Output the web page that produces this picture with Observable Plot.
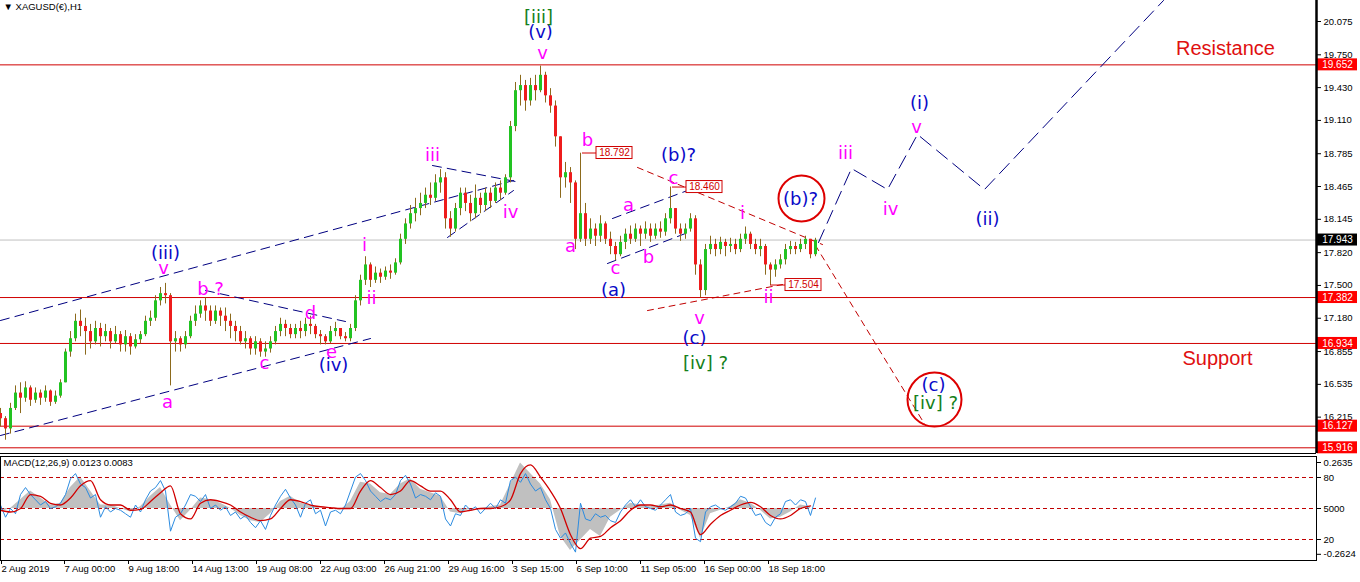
<!DOCTYPE html>
<html><head><meta charset="utf-8">
<script src="https://cdn.jsdelivr.net/npm/d3@7"></script>
<script src="https://cdn.jsdelivr.net/npm/@observablehq/plot@0.6"></script>
<style>
html,body{margin:0;padding:0;background:#fff;}
#chart svg{display:block;}
</style></head><body><div id="chart"></div>
<script>
// ---------- DATA ----------
// H1 candles sampled every 5 bars (bar index = i*5)
const closes = [16.20,16.10,16.30,16.45,16.40,16.50,16.38,16.45,16.40,16.47,
16.36,16.42,16.55,16.85,16.98,17.15,17.10,17.05,16.95,17.08,
17.00,17.05,16.95,17.02,16.92,17.00,16.90,16.97,17.02,17.15,
17.18,17.35,17.42,17.40,16.95,16.98,16.92,17.00,17.15,17.22,
17.30,17.25,17.15,17.25,17.20,17.15,17.10,17.05,16.95,16.98,
16.88,16.95,16.85,16.88,16.95,17.05,17.12,17.08,17.02,17.08,
17.05,17.12,17.10,17.02,17.00,16.95,17.05,17.08,17.00,16.98,
17.08,17.35,17.55,17.70,17.55,17.62,17.58,17.64,17.62,17.72,
17.95,18.10,18.20,18.25,18.30,18.38,18.35,18.50,18.55,18.15,
18.05,18.25,18.40,18.30,18.20,18.35,18.28,18.40,18.32,18.45,
18.40,18.55,19.05,19.40,19.45,19.30,19.45,19.40,19.55,19.35,
19.25,18.95,18.55,18.60,18.50,17.95,18.20,17.95,18.05,17.98,
18.10,17.95,17.88,17.80,17.92,18.00,17.95,18.05,18.00,18.05,
17.98,18.05,18.02,18.15,18.25,18.05,18.00,18.05,18.15,17.70,
17.45,17.85,17.90,17.85,17.92,17.88,17.90,17.85,17.95,18.00,
17.90,17.85,17.88,17.70,17.65,17.70,17.75,17.85,17.88,17.85,
17.90,17.95,17.80,17.94];
const highs = [16.30,16.22,16.35,16.52,16.55,16.56,16.52,16.50,16.48,16.52,
16.48,16.47,16.58,16.88,17.05,17.22,17.26,17.18,17.12,17.15,
17.13,17.12,17.08,17.10,17.05,17.06,17.03,17.02,17.05,17.20,
17.25,17.40,17.48,17.52,17.42,17.05,17.00,17.05,17.20,17.30,
17.35,17.38,17.30,17.30,17.28,17.28,17.22,17.15,17.10,17.05,
17.00,17.00,16.98,16.95,17.00,17.10,17.18,17.16,17.12,17.12,
17.15,17.18,17.20,17.12,17.06,17.02,17.10,17.14,17.08,17.04,
17.12,17.40,17.60,17.78,17.72,17.68,17.66,17.68,17.70,17.76,
18.00,18.15,18.28,18.35,18.40,18.45,18.50,18.58,18.63,18.60,
18.22,18.30,18.45,18.45,18.38,18.48,18.40,18.45,18.45,18.50,
18.52,18.58,19.10,19.48,19.55,19.50,19.52,19.55,19.64,19.58,
19.42,19.30,18.95,18.70,18.65,18.52,18.79,18.30,18.15,18.10,
18.18,18.12,18.02,17.92,17.98,18.05,18.08,18.10,18.08,18.12,
18.10,18.10,18.12,18.20,18.46,18.25,18.10,18.10,18.20,18.18,
17.75,17.90,17.98,17.95,17.97,17.95,17.96,17.95,18.00,18.07,
18.02,17.95,17.95,17.90,17.72,17.75,17.80,17.90,17.93,17.92,
17.95,17.98,17.95,17.96];
const lows = [16.12,15.99,16.05,16.28,16.25,16.36,16.32,16.35,16.33,16.36,
16.32,16.34,16.40,16.55,16.80,16.95,17.00,16.82,16.88,16.92,
16.90,16.95,16.88,16.93,16.85,16.85,16.82,16.88,16.93,17.00,
17.10,17.15,17.30,17.32,16.52,16.85,16.85,16.88,16.98,17.10,
17.18,17.15,17.10,17.12,17.10,17.05,16.98,16.95,16.92,16.88,
16.82,16.82,16.80,16.80,16.84,16.92,17.00,17.00,16.98,16.98,
16.98,17.00,17.02,16.98,16.92,16.92,16.93,17.00,16.97,16.95,
16.95,17.05,17.30,17.50,17.48,17.52,17.52,17.55,17.56,17.60,
17.70,17.90,18.05,18.12,18.18,18.25,18.28,18.32,18.40,18.05,
17.97,18.02,18.18,18.22,18.12,18.15,18.20,18.22,18.25,18.30,
18.33,18.38,18.50,19.00,19.25,19.20,19.25,19.30,19.38,19.28,
19.18,18.85,18.35,18.45,18.30,17.85,17.92,17.88,17.90,17.88,
17.92,17.90,17.80,17.74,17.78,17.85,17.90,17.92,17.88,17.95,
17.92,17.95,17.96,17.98,18.10,18.00,17.93,17.95,18.02,17.60,
17.38,17.40,17.80,17.78,17.80,17.78,17.82,17.80,17.82,17.90,
17.85,17.80,17.78,17.60,17.50,17.58,17.66,17.70,17.80,17.80,
17.82,17.85,17.76,17.78];
const firstOpen = 16.25;

// MACD panel: blue line (every 5 bars), histogram and signal (every 10 bars)
const macdBlue = [0.02,-0.05,0.00,-0.03,0.08,0.12,0.08,0.05,0.02,0.04,
0.00,0.01,0.03,0.08,0.17,0.20,0.14,0.12,0.06,0.08,
-0.05,0.01,-0.02,0.00,-0.01,-0.03,-0.05,0.02,-0.02,0.05,
0.10,0.12,0.16,0.10,-0.13,-0.05,-0.03,0.02,0.08,0.07,
0.04,0.08,0.00,0.02,-0.01,0.01,-0.04,-0.02,-0.06,-0.04,
-0.08,-0.11,-0.07,-0.12,-0.04,0.02,0.07,0.11,0.06,0.02,
-0.05,0.03,0.05,-0.03,-0.01,-0.10,-0.02,-0.01,-0.03,0.02,
0.10,0.18,0.20,0.16,0.10,0.07,0.04,0.06,0.05,0.08,
0.16,0.19,0.14,0.06,0.08,0.07,0.05,0.09,0.07,-0.06,
-0.10,-0.03,-0.04,0.02,-0.01,0.01,-0.03,0.00,0.03,0.00,
0.05,0.03,0.16,0.18,0.15,0.20,0.14,0.10,0.12,0.05,
0.00,-0.12,-0.17,-0.14,-0.20,-0.25,0.03,-0.06,-0.07,-0.03,
-0.05,-0.04,-0.07,-0.08,-0.02,0.02,0.05,0.01,0.05,0.01,
0.00,-0.01,0.02,0.05,0.08,-0.02,-0.04,-0.03,0.00,-0.17,
-0.19,-0.02,0.01,0.02,0.00,-0.01,0.01,0.03,0.07,0.06,
0.01,-0.04,-0.03,-0.08,-0.10,-0.05,-0.03,0.04,0.05,0.02,
0.05,0.04,-0.04,0.06];
const macdHist = [-0.02,0.00,0.05,0.10,0.06,0.02,0.03,0.12,0.18,0.10,
0.02,0.02,0.00,-0.02,0.01,0.07,0.12,0.02,-0.07,-0.01,
0.06,0.05,0.03,0.00,-0.04,-0.07,-0.08,-0.03,0.04,0.07,
0.03,0.02,0.00,0.00,-0.01,0.04,0.15,0.14,0.09,0.08,
0.14,0.17,0.11,0.09,0.07,-0.02,-0.03,0.00,0.00,0.01,
0.02,0.14,0.26,0.20,0.14,0.05,-0.16,-0.24,-0.18,-0.12,
-0.16,-0.05,-0.01,0.03,0.02,0.01,0.02,0.03,-0.01,-0.04,
-0.17,-0.03,-0.01,0.01,0.05,0.03,-0.01,-0.06,-0.05,-0.02,
0.02,0.01];
const macdSignal = [-0.01,-0.02,0.00,0.08,0.07,0.03,0.02,0.06,0.13,0.16,
0.05,0.02,0.02,-0.01,-0.005,0.04,0.09,0.13,-0.03,-0.06,
0.03,0.05,0.04,0.02,-0.02,-0.05,-0.07,-0.06,0.00,0.05,
0.04,0.02,0.01,0.005,0.00,0.00,0.10,0.16,0.12,0.08,
0.10,0.16,0.13,0.10,0.10,0.05,-0.02,-0.01,0.00,0.00,
0.01,0.05,0.20,0.25,0.18,0.10,0.00,-0.15,-0.23,-0.17,
-0.16,-0.11,-0.07,-0.01,0.02,0.02,0.01,0.02,0.00,-0.02,
-0.15,-0.09,-0.04,-0.01,0.02,0.035,0.01,-0.04,-0.06,-0.04,
0.00,0.015];

// Horizontal levels
const redLevels = [19.652, 17.382, 16.934, 16.127, 15.916];
const currentPrice = 17.943;
const priceTicks = [20.075,19.750,19.430,19.110,18.785,18.465,18.145,17.820,17.500,17.180,16.855,16.535,16.215,15.895];

// Time axis (bar index -> label)
const timeTicks = [0,63,127,191,255,319,383,447,511,575,639,703,767];
const timeLabels = ["2 Aug 2019","7 Aug 00:00","9 Aug 18:00","14 Aug 13:00","19 Aug 08:00","22 Aug 03:00","26 Aug 21:00","29 Aug 16:00","3 Sep 15:00","6 Sep 10:00","11 Sep 05:00","16 Sep 00:00","18 Sep 18:00"];

const macdTickVals = [0.2635, 0.1776, 0, -0.1776, -0.2624];
const macdTickLabels = ["0.2635","80","5000","20","-0.2624"];
const macdLevels = [0.1776, 0, -0.1776];

// Wave labels (bar index, price)
const magentaLabels = [
 {t:163,p:17.665,s:"v"},{t:210,p:17.46,s:"b ?"},{t:310,p:17.226,s:"d"},{t:264,p:16.738,s:"c"},
 {t:331,p:16.846,s:"e"},{t:167,p:16.358,s:"a"},{t:364,p:17.89,s:"i"},{t:371,p:17.373,s:"ii"},
 {t:432,p:18.768,s:"iii"},{t:510,p:18.212,s:"iv"},{t:542,p:19.763,s:"v"},{t:587,p:18.914,s:"b"},
 {t:570,p:17.88,s:"a"},{t:615,p:17.665,s:"c"},{t:628,p:18.28,s:"a"},{t:648,p:17.773,s:"b"},
 {t:673,p:18.543,s:"c"},{t:742,p:18.202,s:"i"},{t:699,p:17.177,s:"v"},{t:768,p:17.382,s:"ii"},
 {t:845,p:18.787,s:"iii"},{t:890,p:18.241,s:"iv"},{t:916,p:19.041,s:"v"}];
const blueLabels = [
 {t:165,p:17.812,s:"(iii)"},{t:333,p:16.719,s:"(iv)"},{t:540,p:19.968,s:"(v)"},{t:613,p:17.451,s:"(a)"},
 {t:678,p:18.768,s:"(b)?"},{t:694,p:16.982,s:"(c)"},{t:800,p:18.338,s:"(b)?"},{t:919,p:19.275,s:"(i)"},
 {t:987,p:18.143,s:"(ii)"},{t:933,p:16.524,s:"(c)"}];
const greenLabels = [
 {t:538,p:20.114,s:"[iii]"},{t:705,p:16.738,s:"[iv] ?"},{t:935,p:16.348,s:"[iv] ?"}];
const circleB = [{t:801,p:18.348}];
const circleC = [{t:934,p:16.387}];
const zoneLabels = [{t:1225,p:19.812,s:"Resistance"},{t:1217,p:16.787,s:"Support"}];

// Trend / projection lines (bar index, price)
const navyLines = [
 {id:1,t:0,p:17.158},{id:1,t:513,p:18.524},
 {id:2,t:0,p:16.036},{id:2,t:370,p:16.982},
 {id:3,t:205,p:17.451},{id:3,t:345,p:17.148},
 {id:4,t:432,p:18.670},{id:4,t:515,p:18.514},
 {id:5,t:447,p:17.968},{id:5,t:513,p:18.426},
 {id:6,t:612,p:18.153},{id:6,t:687,p:18.426},
 {id:7,t:607,p:17.714},{id:7,t:685,p:18.007}];
const redDashLines = [
 {id:1,t:637,p:18.651},{id:1,t:822,p:17.899},
 {id:2,t:647,p:17.255},{id:2,t:782,p:17.509},
 {id:3,t:815,p:17.890},{id:3,t:925,p:16.133}];
const projection = [{t:818,p:17.919},{t:851,p:18.641},{t:887,p:18.436},{t:917,p:18.973},{t:984,p:18.436},{t:1163,p:20.280}];
const priceTags = [{t0:582,t1:596,t2:632,p:18.792},{t0:672,t1:686,t2:722,p:18.460},{t0:770,t1:785,t2:821,p:17.504}];
const axisTags = [
 {p:19.652,fill:"#ff0000"},{p:17.382,fill:"#ff0000"},{p:16.934,fill:"#ff0000"},
 {p:16.127,fill:"#ff0000"},{p:15.916,fill:"#ff0000"},{p:17.943,fill:"#000000"}];

// ---------- CHART ----------
const W = 1360, AX = 1316;
const HALF = 6 / 102.5; // half box height in price units
const candles = closes.map((c, i) => {
  const o = i ? closes[i - 1] : firstOpen;
  return {t: i * 5, o, c, h: Math.max(highs[i], o, c), l: Math.min(lows[i], o, c)};
});
const font = "'Liberation Sans', Arial, sans-serif";
const waveFont = "'DejaVu Sans', Verdana, sans-serif";

const main = Plot.plot({
  width: W, height: 455, marginLeft: 0, marginRight: W - AX, marginTop: 0, marginBottom: 2,
  x: {domain: [0, AX], axis: null},
  y: {domain: [15.8604, 20.2799]},
  style: {fontFamily: font, fontSize: "9.5px", background: "#fff", color: "#000", overflow: "visible"},
  marks: [
    Plot.ruleY([currentPrice], {stroke: "#c0c0c0"}),
    Plot.ruleY(redLevels, {stroke: "#d00000", strokeWidth: 1}),
    Plot.line(navyLines, {x: "t", y: "p", z: "id", stroke: "#000080", strokeWidth: 1, strokeDasharray: "9,6"}),
    Plot.line(redDashLines, {x: "t", y: "p", z: "id", stroke: "#c00000", strokeWidth: 1, strokeDasharray: "6,5"}),
    Plot.line(projection, {x: "t", y: "p", stroke: "#000080", strokeWidth: 1, strokeDasharray: "14,7"}),
    Plot.ruleX(candles, {x: "t", y1: "l", y2: "h", stroke: "#8c6a1c", strokeWidth: 1}),
    Plot.ruleX(candles, {x: "t", y1: "o", y2: "c", stroke: d => d.c >= d.o ? "#22c322" : "#ee1c1c", strokeWidth: 3}),
    Plot.ruleY(priceTags, {y: "p", x1: "t0", x2: "t1", stroke: "#d00000"}),
    Plot.rect(priceTags, {x1: "t1", x2: "t2", y1: d => d.p - HALF, y2: d => d.p + HALF, fill: "#fff", stroke: "#d00000"}),
    Plot.text(priceTags, {x: d => (d.t1 + d.t2) / 2, y: "p", text: d => d.p.toFixed(3), fill: "#d00000", fontSize: 10}),
    Plot.dot(circleB, {x: "t", y: "p", r: 23, stroke: "#dd0000", strokeWidth: 2, fill: "none"}),
    Plot.dot(circleC, {x: "t", y: "p", r: 27, stroke: "#dd0000", strokeWidth: 2, fill: "none"}),
    Plot.text(magentaLabels, {x: "t", y: "p", text: "s", fill: "#ff00ff", fontSize: 18, fontFamily: waveFont}),
    Plot.text(blueLabels, {x: "t", y: "p", text: "s", fill: "#0a0ac8", fontSize: 18, fontFamily: waveFont}),
    Plot.text(greenLabels, {x: "t", y: "p", text: "s", fill: "#15801a", fontSize: 18, fontFamily: waveFont}),
    Plot.text(zoneLabels, {x: "t", y: "p", text: "s", fill: "#e01010", fontSize: 20, fontFamily: font}),
    Plot.axisY({anchor: "right", label: null, ticks: priceTicks, tickFormat: d => d.toFixed(3), tickSize: 4, tickPadding: 3}),
    Plot.rect(axisTags, {x1: 1317, x2: 1357, y1: d => d.p - HALF, y2: d => d.p + HALF, fill: "fill"}),
    Plot.text(axisTags, {x: 1337, y: "p", text: d => d.p.toFixed(3), fill: "#fff", fontSize: 10}),
    Plot.ruleX([AX], {stroke: "#000", strokeWidth: 2.5}),
    Plot.ruleY([15.8604], {stroke: "#000"}),
    Plot.text(["\u25BC XAGUSD(\u20AC),H1"], {text: d => d, frameAnchor: "top-left", dx: 3, dy: 3, fontSize: 9.5, fill: "#000"})
  ]
});

const blueData = macdBlue.map((v, i) => ({t: i * 5, v}));
const histData = macdHist.map((v, i) => ({t: i * 10, v}));
const sigData = macdSignal.map((v, i) => ({t: i * 10, v}));
const tickMap = new Map(timeTicks.map((t, i) => [t, timeLabels[i]]));
const macdMap = new Map(macdTickVals.map((t, i) => [t, macdTickLabels[i]]));

const macd = Plot.plot({
  width: W, height: 127, marginLeft: 0, marginRight: W - AX, marginTop: 1, marginBottom: 22,
  x: {domain: [0, AX]},
  y: {domain: [-0.2979, 0.2979]},
  style: {fontFamily: font, fontSize: "9.5px", background: "#fff", color: "#000", overflow: "visible"},
  marks: [
    Plot.areaY(histData, {x: "t", y: "v", fill: "#c0c0c0"}),
    Plot.ruleY(macdLevels, {stroke: "#c00000", strokeDasharray: "4,3"}),
    Plot.line(blueData, {x: "t", y: "v", stroke: "#2b8be0", strokeWidth: 1}),
    Plot.line(sigData, {x: "t", y: "v", stroke: "#d00000", strokeWidth: 1.3, curve: "monotone-x"}),
    Plot.frame({stroke: "#000"}),
    Plot.axisY({anchor: "right", label: null, ticks: macdTickVals, tickFormat: d => macdMap.get(d), tickSize: 4, tickPadding: 3}),
    Plot.axisX({label: null, ticks: timeTicks, tickFormat: d => tickMap.get(d), tickSize: 4, tickPadding: 1, textAnchor: "start", dx: 1}),
    Plot.text(["MACD(12,26,9) 0.0123 0.0083"], {text: d => d, frameAnchor: "top-left", dx: 3, dy: 3, fontSize: 9.5, fill: "#000"})
  ]
});

document.getElementById("chart").append(main, macd);
</script></body></html>
